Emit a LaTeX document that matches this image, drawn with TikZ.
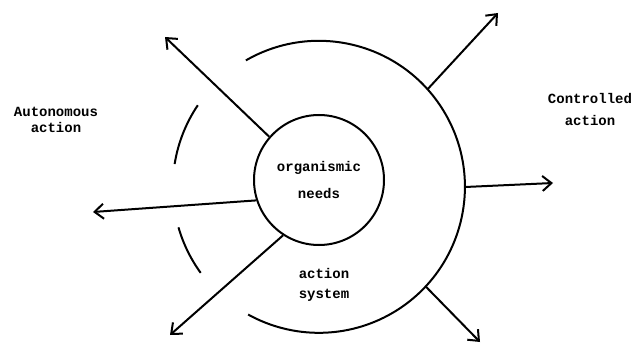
\documentclass[tikz,border=0pt]{standalone}
\usepackage{fontspec}
\setmainfont{Liberation Mono}
\usetikzlibrary{arrows.meta}
\tikzstyle{needscircle} = [
    circle,
    minimum size=130pt,
    inner sep=0pt,
    draw=black,
    line width=2pt,
    align=center
]
\tikzstyle{systemcircle} = [
    circle,
    minimum size=292pt,
    inner sep=0pt,
    draw=none
]
\tikzstyle{caption} = [
    align=center,
    font=\bfseries\fontsize{14}{16}\selectfont
]
\tikzstyle{ring} = [line width=2pt]
\tikzstyle{arrow} = [line width=2pt,-{Straight Barb[length=9pt,width=15pt,line width=2pt]}]

\begin{document}
\begin{tikzpicture}[x=1pt,y=1pt]
\useasboundingbox (0,0) rectangle (635,346);

\node (system) [systemcircle] at (319,159) {};

\node (needs) [needscircle, caption] at (319,166)
{organismic\\[11pt]needs};

\node (actsys) [caption] at (324,61) {action\\[4pt]system};
\node (auto) [caption] at (56,226) {Autonomous\\action};
\node (ctrl) [caption] at (590,237) {Controlled\\[6pt]action};

% the action system ring, broken on the left
\draw [ring] (system.120) arc[start angle=120, end angle=-119, radius=146pt];
\draw [ring] (system.146) arc[start angle=146, end angle=171, radius=146pt];
\draw [ring] (system.196) arc[start angle=196, end angle=216, radius=146pt];

\coordinate (ul) at (165,309);
\coordinate (l) at (93,134);
\coordinate (ll) at (170,11);
\coordinate (ur) at (498,333);
\coordinate (r) at (553,163);
\coordinate (lr) at (480,4);

\draw [arrow] (needs.139) -- (ul);
\draw [arrow] (needs.198) -- (l);
\draw [arrow] (needs.237) -- (ll);
\draw [arrow] (system.42) -- (ur);
\draw [arrow] (system.0) -- (r);
\draw [arrow] (system.-43) -- (lr);

\end{tikzpicture}
\end{document}
